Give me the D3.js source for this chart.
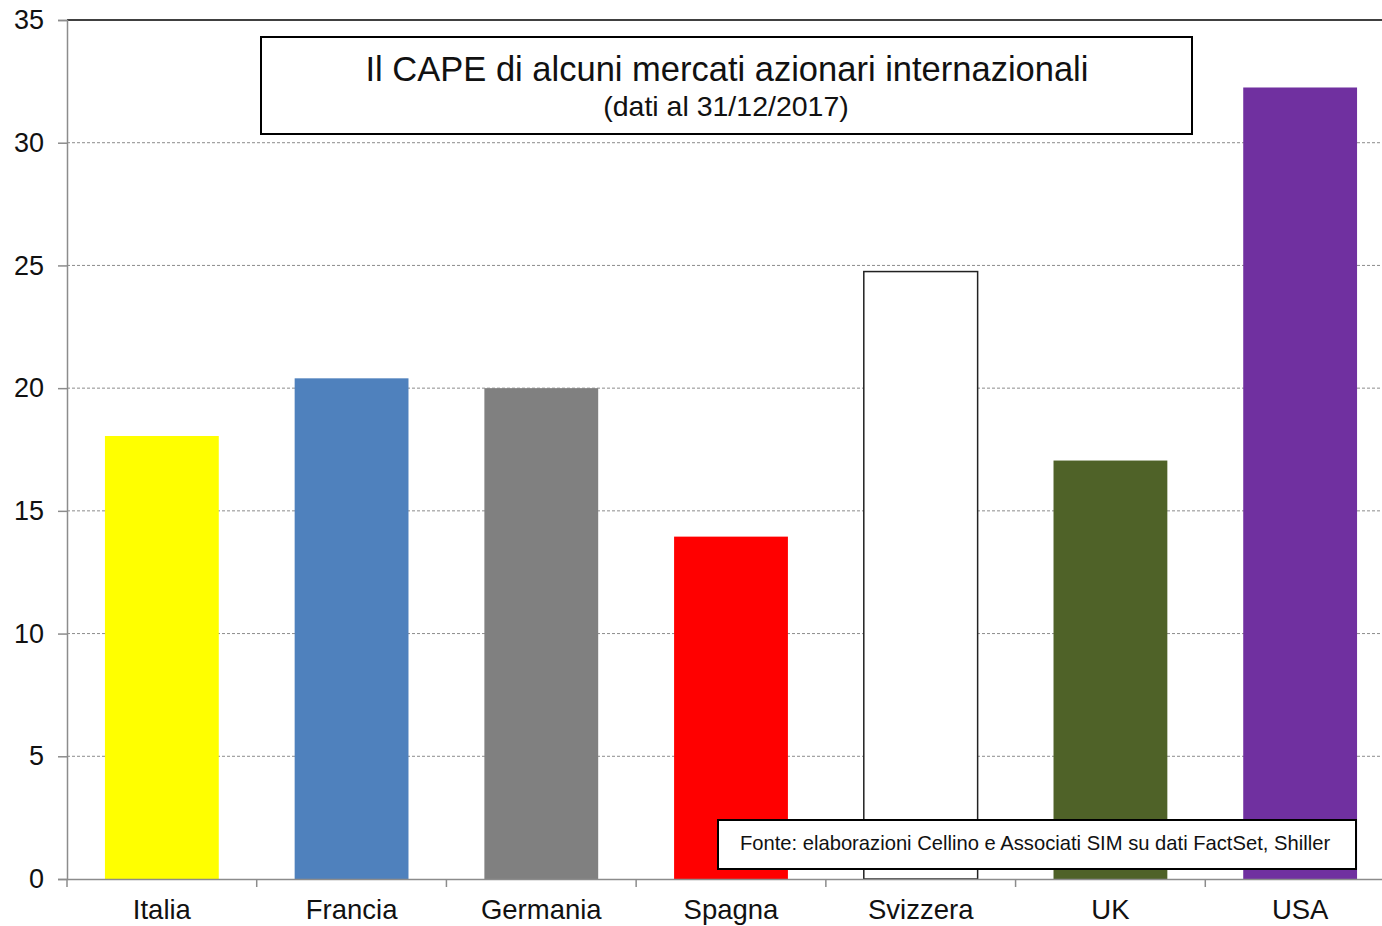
<!DOCTYPE html>
<html>
<head>
<meta charset="utf-8">
<script src="https://cdn.jsdelivr.net/npm/d3@7"></script>
<style>
  body { margin: 0; background: #fff; }
  svg { font-family: "Liberation Sans", Arial, sans-serif; display: block; }
</style>
</head>
<body>
<div id="chart"></div>
<script>
let countries = ["Italia", "Francia", "Germania", "Spagna", "Svizzera", "UK", "USA"];
let capeValues = [18.05, 20.4, 20.0, 13.95, 24.75, 17.05, 32.25];
let barColors = ["#FFFF00", "#4F81BD", "#808080", "#FF0000", "#FFFFFF", "#4F6228", "#7030A0"];
let yTicks = [0, 5, 10, 15, 20, 25, 30, 35];

let svgWidth = 1382;
let svgHeight = 926;

let margin = { top: 20, right: -13, bottom: 47, left: 67 };
let width = svgWidth - margin.left - margin.right;
let height = svgHeight - margin.top - margin.bottom;

let svg = d3.select("#chart")
  .append("svg")
  .attr("width", svgWidth)
  .attr("height", svgHeight);

let chartGroup = svg.append("g")
  .attr("transform", `translate(${margin.left}, ${margin.top})`);

let xScale = d3.scaleBand()
  .domain(countries)
  .range([0, width])
  .paddingInner(0.4)
  .paddingOuter(0.2);

let yScale = d3.scaleLinear()
  .domain([0, 35])
  .range([height, 0]);

// gridlines
chartGroup.append("g")
  .selectAll("line")
  .data(yTicks.filter(d => d > 0 && d < 35))
  .enter()
  .append("line")
  .attr("x1", 0)
  .attr("x2", width)
  .attr("y1", d => yScale(d))
  .attr("y2", d => yScale(d))
  .attr("stroke", "#8c8c8c")
  .attr("stroke-width", 1)
  .attr("stroke-dasharray", "3,2");

// top border
chartGroup.append("line")
  .attr("x1", 0).attr("x2", width)
  .attr("y1", 0).attr("y2", 0)
  .attr("stroke", "#000").attr("stroke-width", 1.5);

// bars
chartGroup.append("g")
  .selectAll("rect")
  .data(countries)
  .enter()
  .append("rect")
  .attr("x", d => xScale(d))
  .attr("y", (d, i) => yScale(capeValues[i]))
  .attr("width", xScale.bandwidth())
  .attr("height", (d, i) => height - yScale(capeValues[i]))
  .attr("fill", (d, i) => barColors[i])
  .attr("stroke", (d, i) => barColors[i] == "#FFFFFF" ? "#222" : "none")
  .attr("stroke-width", 1.5);

// y axis
let leftAxis = d3.axisLeft(yScale)
  .tickValues(yTicks)
  .tickSize(9)
  .tickPadding(14)
  .tickFormat(d3.format("d"));

let yAxisG = chartGroup.append("g").call(leftAxis);
yAxisG.select(".domain").attr("stroke", "#8c8c8c").attr("stroke-width", 1.5);
yAxisG.selectAll(".tick line").attr("stroke", "#8c8c8c").attr("stroke-width", 1.5);
yAxisG.selectAll(".tick text")
  .attr("font-size", 27)
  .attr("font-family", "Liberation Sans, Arial, sans-serif")
  .attr("fill", "#111");

// x axis
let bottomAxis = d3.axisBottom(xScale).tickSize(0).tickPadding(20);
let xAxisG = chartGroup.append("g")
  .attr("transform", `translate(0, ${height})`)
  .call(bottomAxis);
xAxisG.select(".domain").attr("stroke", "#8c8c8c").attr("stroke-width", 1.5);
xAxisG.selectAll(".tick text")
  .attr("font-size", 27.5)
  .attr("font-family", "Liberation Sans, Arial, sans-serif")
  .attr("fill", "#111");

// category separator ticks
let step = xScale.step();
chartGroup.append("g")
  .selectAll("line")
  .data(d3.range(countries.length + 1))
  .enter()
  .append("line")
  .attr("x1", i => i * step)
  .attr("x2", i => i * step)
  .attr("y1", height)
  .attr("y2", height + 8)
  .attr("stroke", "#8c8c8c")
  .attr("stroke-width", 1.5);

// title box
svg.append("rect")
  .attr("x", 261).attr("y", 37)
  .attr("width", 931).attr("height", 97)
  .attr("fill", "#fff")
  .attr("stroke", "#000")
  .attr("stroke-width", 2);

svg.append("text")
  .attr("x", 727).attr("y", 81)
  .attr("text-anchor", "middle")
  .attr("font-size", 34.5)
  .attr("fill", "#111")
  .text("Il CAPE di alcuni mercati azionari internazionali");

svg.append("text")
  .attr("x", 726).attr("y", 116)
  .attr("text-anchor", "middle")
  .attr("font-size", 28.5)
  .attr("fill", "#111")
  .text("(dati al 31/12/2017)");

// source box
svg.append("rect")
  .attr("x", 718).attr("y", 820)
  .attr("width", 638).attr("height", 49)
  .attr("fill", "#fff")
  .attr("stroke", "#000")
  .attr("stroke-width", 2);

svg.append("text")
  .attr("x", 1035).attr("y", 850)
  .attr("text-anchor", "middle")
  .attr("font-size", 20.2)
  .attr("fill", "#111")
  .text("Fonte: elaborazioni Cellino e Associati SIM su dati FactSet, Shiller");
</script>
</body>
</html>
